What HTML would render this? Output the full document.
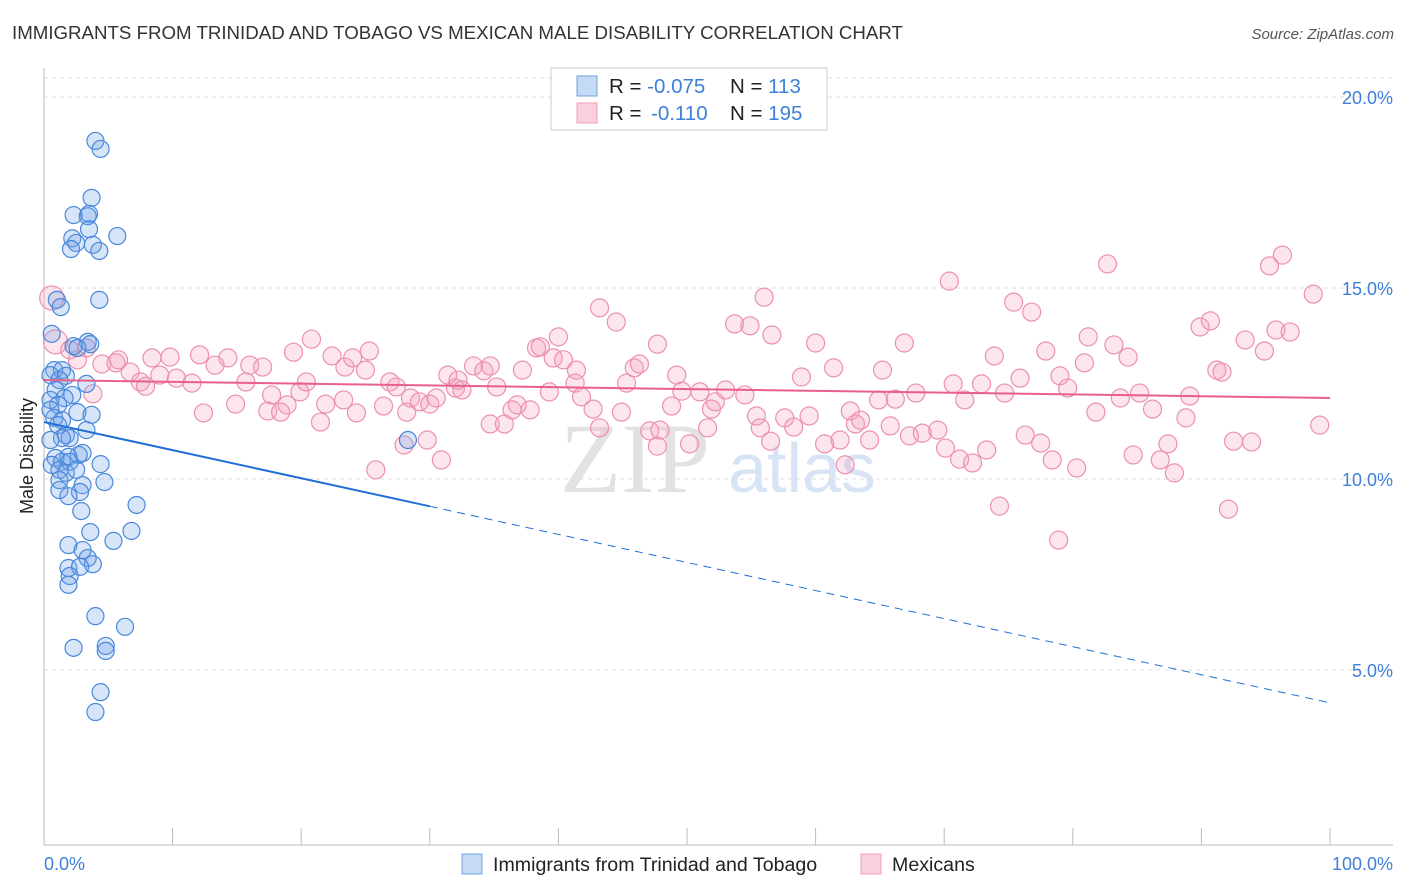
<!DOCTYPE html>
<html><head><meta charset="utf-8"><style>
body{margin:0;background:#fff;font-family:"Liberation Sans",sans-serif;}
svg{display:block}
</style></head><body>
<svg id="chart" width="1406" height="892" xmlns="http://www.w3.org/2000/svg">
<text x="12" y="39" font-size="18.7" fill="#333">IMMIGRANTS FROM TRINIDAD AND TOBAGO VS MEXICAN MALE DISABILITY CORRELATION CHART</text>
<text x="1394" y="39" font-size="15" fill="#555" font-style="italic" text-anchor="end">Source: ZipAtlas.com</text>
<text x="635" y="492" font-size="100" fill="#e2e2e2" font-family="Liberation Serif,serif" text-anchor="middle">ZIP</text>
<text x="802" y="492" font-size="70" fill="#d6e4f5" text-anchor="middle">atlas</text>
<g id="grid"></g>
<line x1="44" y1="68" x2="44" y2="845" stroke="#bbb"/>
<line x1="44" y1="845" x2="1393" y2="845" stroke="#bbb"/>
<g id="xticks"></g>
<text transform="translate(33,456) rotate(-90)" font-size="18" fill="#222" text-anchor="middle">Male Disability</text>
<text x="44" y="870" font-size="18" fill="#3d7fd9">0.0%</text>
<text x="1393" y="870" font-size="18" fill="#3d7fd9" text-anchor="end">100.0%</text>
<g id="pts"></g>
<g id="lines"></g>
<g>
<rect x="551" y="68" width="276" height="62" fill="#fff" stroke="#ccc"/>
<rect x="577" y="76" width="20" height="20" fill="#c5daf5" stroke="#6fa0e0"/>
<rect x="577" y="103" width="20" height="20" fill="#fad0dd" stroke="#eda0b8"/>
<text x="609" y="93" font-size="20.5" fill="#222">R = <tspan fill="#3d7fd9">-0.075</tspan><tspan x="730">N = </tspan><tspan fill="#3d7fd9">113</tspan></text>
<text x="609" y="120" font-size="20.5" fill="#222">R = <tspan x="651" fill="#3d7fd9">-0.110</tspan><tspan x="730">N = </tspan><tspan fill="#3d7fd9">195</tspan></text>
</g>
<g>
<rect x="462" y="854" width="20" height="20" fill="#c5daf5" stroke="#6fa0e0"/>
<text x="493" y="871" font-size="19.6" fill="#222">Immigrants from Trinidad and Tobago</text>
</g>
<g>
<rect x="861" y="854" width="20" height="20" fill="#fad0dd" stroke="#eda0b8"/>
<text x="892" y="871" font-size="19.6" fill="#222">Mexicans</text>
</g>
</svg>
<script>
const yTicks=[5,10,15,20];
const yTickLabels=["5.0%","10.0%","15.0%","20.0%"];
const xTicks=[0,10,20,30,40,50,60,70,80,90,100];
const blueX=[4.0,4.4,3.7,3.5,2.3,3.4,3.5,5.7,2.2,2.5,3.8,2.1,4.3,1.0,4.3,1.3,0.6,3.4,3.6,2.3,2.6,0.8,1.4,0.5,1.7,1.2,3.3,0.9,2.2,1.6,0.5,1.1,0.5,2.6,3.7,0.8,1.4,1.1,3.3,1.7,2.0,1.4,0.5,3.0,2.7,1.9,0.9,1.4,2.0,0.6,1.2,4.4,1.7,2.5,1.2,3.0,1.2,2.8,1.9,4.7,7.2,2.9,3.6,6.8,5.4,1.9,3.0,3.4,3.8,1.9,2.8,2.0,1.9,4.0,6.3,2.3,4.8,4.8,4.4,4.0,28.3];
const blueY=[18.85,18.64,17.36,16.94,16.91,16.88,16.54,16.36,16.30,16.18,16.13,16.02,15.97,14.69,14.69,14.50,13.80,13.59,13.53,13.48,13.43,12.85,12.85,12.72,12.70,12.59,12.49,12.33,12.20,12.12,12.07,11.94,11.81,11.75,11.68,11.60,11.54,11.41,11.28,11.15,11.07,11.07,11.02,10.68,10.63,10.58,10.55,10.45,10.45,10.37,10.24,10.39,10.16,10.24,9.97,9.84,9.71,9.66,9.55,9.92,9.32,9.16,8.61,8.64,8.38,8.27,8.14,7.93,7.77,7.67,7.70,7.46,7.23,6.41,6.13,5.58,5.63,5.50,4.42,3.90,11.02];
const pinkX=[0.6,0.9,2.0,3.3,2.6,3.8,4.5,5.6,6.7,5.8,7.5,7.9,8.4,9.0,9.8,10.3,11.5,12.1,12.4,13.3,14.3,14.9,15.7,16.0,17.0,17.4,17.7,18.4,18.9,19.4,19.9,20.4,20.8,21.5,21.9,22.4,23.3,23.4,24.0,24.3,25.0,25.3,25.8,26.4,26.9,27.4,28.2,28.0,28.5,29.2,29.8,30.0,30.5,30.9,31.4,32.0,32.2,32.5,33.4,34.2,34.7,34.7,35.2,35.8,36.4,36.8,37.2,37.8,38.3,38.6,39.3,39.6,40.0,40.4,41.3,41.4,41.8,42.7,43.2,44.5,44.9,45.3,45.9,46.3,47.1,47.7,47.7,48.8,49.2,49.6,50.2,51.0,51.6,51.9,52.2,53.0,53.7,54.5,54.9,55.4,55.7,56.0,56.5,56.6,57.6,58.3,58.9,59.5,60.0,60.7,61.4,61.9,62.3,62.7,63.1,63.5,64.2,64.9,65.2,65.8,66.2,66.9,67.3,67.8,68.3,69.5,70.1,70.4,70.7,71.2,71.6,72.2,72.9,73.3,73.9,74.7,75.4,75.9,76.3,76.8,77.5,77.9,78.4,79.0,79.6,80.3,81.2,80.9,81.8,82.7,83.2,83.7,84.3,84.7,85.2,86.2,86.8,87.4,87.9,88.8,89.1,89.9,90.7,91.2,91.6,92.1,92.5,93.4,93.9,94.9,95.3,95.8,96.3,96.9,98.7,99.2,74.3,78.9,43.2,47.9];
const pinkY=[14.74,13.59,13.38,13.43,13.12,12.23,13.01,13.04,12.80,13.12,12.54,12.43,13.17,12.72,13.19,12.64,12.51,13.25,11.73,12.98,13.17,11.96,12.54,12.98,12.93,11.78,12.20,11.75,11.94,13.32,12.28,12.54,13.66,11.49,11.96,13.22,12.07,12.93,13.17,11.73,12.85,13.35,10.24,11.91,12.54,12.41,11.75,10.89,12.12,12.02,11.02,11.96,12.12,10.50,12.72,12.38,12.59,12.33,12.96,12.83,11.44,12.96,12.41,11.44,11.81,11.94,12.85,11.81,13.43,13.46,12.28,13.17,13.72,13.12,12.51,12.85,12.15,11.83,14.48,14.11,11.75,12.51,12.91,13.01,11.26,13.53,10.86,11.91,12.72,12.30,10.92,12.28,11.34,11.83,12.02,12.33,14.06,12.20,14.01,11.65,11.34,14.76,10.99,13.77,11.60,11.36,12.67,11.65,13.56,10.92,12.91,11.02,10.37,11.78,11.44,11.54,11.02,12.07,12.85,11.39,12.09,13.56,11.13,12.25,11.20,11.28,10.81,15.18,12.49,10.52,12.07,10.42,12.49,10.76,13.22,12.25,14.63,12.64,11.15,14.37,10.94,13.35,10.50,12.70,12.38,10.29,13.72,13.04,11.75,15.63,13.51,12.12,13.19,10.63,12.25,11.83,10.50,10.92,10.16,11.60,12.17,13.98,14.14,12.85,12.80,9.21,10.99,13.64,10.97,13.35,15.58,13.90,15.86,13.85,14.84,11.41,9.29,8.40,11.34,11.28];
const blueTrend=[11.49,4.14];
const blueSolidEnd=30;
const pinkTrend=[12.59,12.12];

const NS="http://www.w3.org/2000/svg";
function sx(v){return 44+v*12.86;}
function sy(v){return 861-v*38.2;}
function mk(tag,attrs,parent){const e=document.createElementNS(NS,tag);for(const k in attrs)e.setAttribute(k,attrs[k]);parent.appendChild(e);return e;}
const grid=document.getElementById('grid');
const g0=mk('line',{x1:44,x2:1393,y1:78,y2:78,stroke:'#ddd','stroke-dasharray':'4,4'},grid);


yTicks.forEach((t,i)=>{
  const l=mk('line',{x1:44,x2:1393,y1:sy(t),y2:sy(t),stroke:'#ddd','stroke-dasharray':'4,4'},grid);
  
  
  const tx=mk('text',{x:1393,y:sy(t)+7,'font-size':18,fill:'#3d7fd9','text-anchor':'end'},grid);
  tx.textContent=yTickLabels[i];
  
  
});
const xt=document.getElementById('xticks');
xTicks.forEach(t=>{
  const l=mk('line',{x1:sx(t),x2:sx(t),y1:828,y2:845,stroke:'#bbb'},xt);
  
  
});
const pts=document.getElementById('pts');
pinkX.forEach((x,i)=>{
  const c=mk('circle',{cx:sx(x),cy:sy(pinkY[i]),r:i<2?12:9,fill:'rgba(244,160,188,0.28)',stroke:'#ec90ae','stroke-width':1.2},pts);
  
  
});
blueX.forEach((x,i)=>{
  const c=mk('circle',{cx:sx(x),cy:sy(blueY[i]),r:8.5,fill:'rgba(110,160,230,0.28)',stroke:'#4a88dc','stroke-width':1.2},pts);
  
  
});
const ln=document.getElementById('lines');
function ty(tr,x){return tr[0]+(tr[1]-tr[0])*x/100;}
const b1=mk('line',{x1:sx(0),y1:sy(ty(blueTrend,0)),x2:sx(blueSolidEnd),y2:sy(ty(blueTrend,blueSolidEnd)),stroke:'#1f6fd6','stroke-width':2},ln);


const b2=mk('line',{x1:sx(blueSolidEnd),y1:sy(ty(blueTrend,blueSolidEnd)),x2:sx(100),y2:sy(ty(blueTrend,100)),stroke:'#1f6fd6','stroke-width':1,'stroke-dasharray':'8,6'},ln);


const p1=mk('line',{x1:sx(0),y1:sy(pinkTrend[0]),x2:sx(100),y2:sy(pinkTrend[1]),stroke:'#e8608a','stroke-width':2},ln);


</script>
</body></html>
